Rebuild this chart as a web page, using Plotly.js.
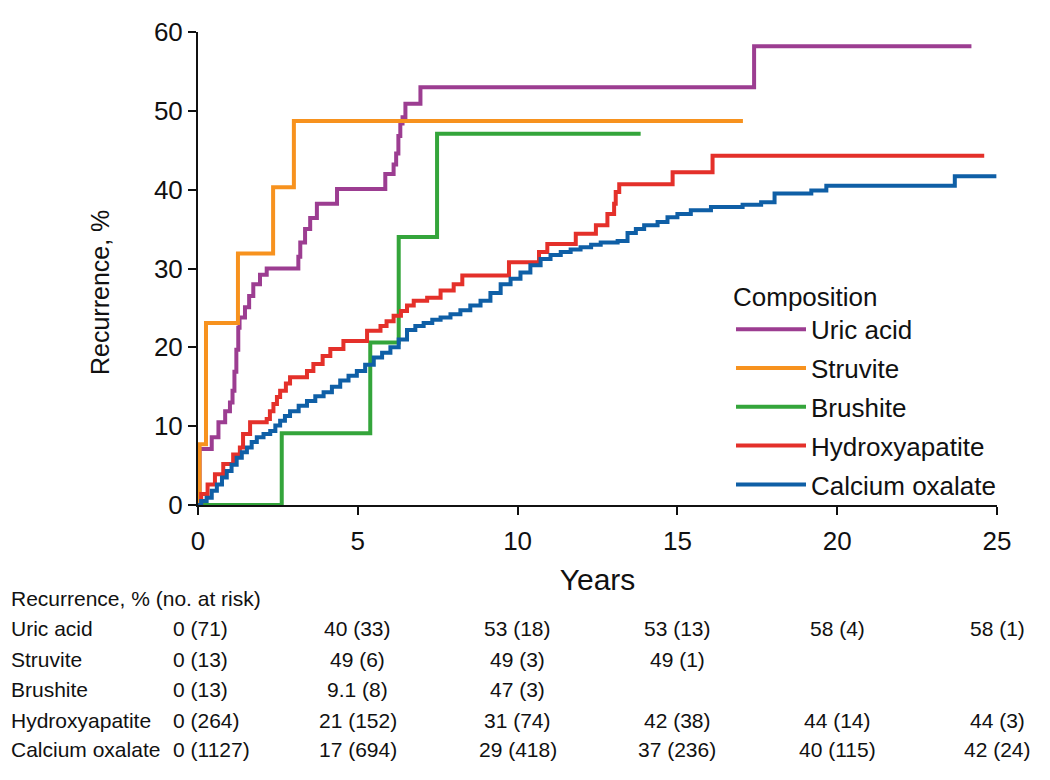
<!DOCTYPE html>
<html>
<head>
<meta charset="utf-8">
<script src="https://cdn.plot.ly/plotly-3.0.1.min.js"></script>
<style>
  html, body { margin: 0; padding: 0; background: #fff; }
  #chart { width: 1050px; height: 780px; }
</style>
</head>
<body>
<div id="chart"></div>
<script>
// Kaplan-Meier recurrence by stone composition
var uricX = [0, 0.05, 0.43, 0.64, 0.85, 1.0, 1.08, 1.14, 1.2, 1.26, 1.3, 1.47, 1.6, 1.73, 1.94, 2.15, 3.14, 3.2, 3.35, 3.51, 3.72, 4.35, 5.86, 6.12, 6.2, 6.27, 6.33, 6.4, 6.49, 6.96, 17.4, 24.2];
var uricY = [0, 7.1, 8.6, 10.5, 11.9, 13.0, 14.5, 16.9, 19.7, 22.5, 23.8, 25.1, 26.5, 28.0, 29.2, 30.0, 31.5, 33.3, 35.0, 36.4, 38.2, 40.1, 42.0, 43.2, 44.6, 46.8, 48.4, 49.2, 50.9, 53.0, 58.2, 58.2];

var struviteX = [0, 0.05, 0.25, 1.25, 2.35, 3.0, 17.05];
var struviteY = [0, 7.7, 23.1, 31.9, 40.3, 48.7, 48.7];

var brushiteX = [0, 2.62, 5.39, 6.28, 7.48, 13.85];
var brushiteY = [0, 9.1, 20.6, 34.0, 47.1, 47.1];

var hydroxX = [0, 0.1, 0.3, 0.53, 0.79, 1.1, 1.31, 1.41, 1.63, 2.15, 2.25, 2.36, 2.47, 2.57, 2.75, 2.88, 3.41, 3.61, 3.9, 4.14, 4.55, 5.29, 5.71, 5.9, 6.12, 6.35, 6.54, 6.75, 7.17, 7.59, 8.0, 8.27, 9.73, 10.67, 10.93, 11.82, 12.45, 12.81, 13.02, 13.07, 13.18, 14.85, 16.1, 24.6];
var hydroxY = [0, 1.4, 2.6, 3.9, 5.2, 6.4, 7.3, 9.0, 10.5, 10.9, 11.9, 12.8, 13.7, 14.5, 15.4, 16.2, 17.0, 17.9, 18.9, 19.8, 20.8, 22.1, 22.7, 23.3, 24.0, 24.6, 25.3, 25.9, 26.3, 27.2, 28.0, 29.1, 30.8, 32.1, 33.1, 34.4, 35.5, 36.9, 38.2, 39.7, 40.7, 42.2, 44.3, 44.3];

var oxalateX = [0, 0.1, 0.27, 0.43, 0.59, 0.75, 0.9, 1.05, 1.21, 1.37, 1.53, 1.68, 1.84, 2.05, 2.26, 2.42, 2.57, 2.72, 2.88, 3.15, 3.41, 3.67, 3.93, 4.19, 4.45, 4.71, 4.97, 5.23, 5.5, 5.76, 6.02, 6.28, 6.54, 6.8, 7.06, 7.33, 7.59, 7.9, 8.21, 8.52, 8.84, 9.15, 9.47, 9.78, 10.09, 10.4, 10.72, 11.03, 11.35, 11.66, 11.97, 12.3, 12.6, 13.13, 13.44, 13.7, 13.96, 14.38, 14.69, 15.0, 15.42, 16.05, 17.04, 17.62, 18.04, 19.19, 19.66, 23.68, 24.98];
var oxalateY = [0, 0.5, 0.93, 1.8, 2.6, 3.5, 4.3, 5.1, 6.0, 6.7, 7.3, 8.0, 8.6, 9.0, 9.4, 10.1, 10.7, 11.3, 11.9, 12.6, 13.2, 13.8, 14.3, 15.0, 15.8, 16.4, 17.0, 17.8, 18.7, 19.3, 20.0, 21.0, 22.2, 22.7, 23.1, 23.5, 23.8, 24.2, 24.7, 25.3, 25.9, 26.9, 28.0, 28.7, 29.5, 30.4, 31.2, 31.7, 32.1, 32.4, 32.7, 33.0, 33.3, 33.5, 34.5, 35.0, 35.5, 35.9, 36.5, 36.9, 37.4, 37.8, 38.1, 38.4, 39.5, 39.9, 40.5, 41.7, 41.7];

// risk table
var tableTimes = [0, 5, 10, 15, 20, 25];
var rowNames = ["Uric acid", "Struvite", "Brushite", "Hydroxyapatite", "Calcium oxalate"];
var uricPct = [0, 40, 53, 53, 58, 58];
var uricRisk = [71, 33, 18, 13, 4, 1];
var struvitePct = [0, 49, 49, 49];
var struviteRisk = [13, 6, 3, 1];
var brushitePct = [0, 9.1, 47];
var brushiteRisk = [13, 8, 3];
var hydroxPct = [0, 21, 31, 42, 44, 44];
var hydroxRisk = [264, 152, 74, 38, 14, 3];
var oxalatePct = [0, 17, 29, 37, 40, 42];
var oxalateRisk = [1127, 694, 418, 236, 115, 24];

var FONT = "Liberation Sans, Arial, Helvetica, sans-serif";

// page geometry in px
var W = 1050, H = 780, L = 198, R = 53, T = 32, B = 275;
var plotW = W - L - R, plotH = H - T - B;
function pxX(px) { return (px - L) / plotW; }
function pxY(py) { return (H - B - py) / plotH; }

function kmTrace(name, x, y, color) {
  return {
    x: x, y: y, name: name, legendgroup: name,
    type: "scatter", mode: "lines",
    line: {shape: "hv", color: color, width: 4},
    hoverinfo: "skip"
  };
}

var traces = [
  kmTrace("Uric acid", uricX, uricY, "#9c3d91"),
  kmTrace("Struvite", struviteX, struviteY, "#f7921e"),
  kmTrace("Brushite", brushiteX, brushiteY, "#34a53b"),
  kmTrace("Hydroxyapatite", hydroxX, hydroxY, "#e4302a"),
  kmTrace("Calcium oxalate", oxalateX, oxalateY, "#0f5fa6")
];

var TS = 21;  // table font size
var annos = [];
annos.push({
  text: "Recurrence, % (no. at risk)", xref: "paper", yref: "paper",
  x: pxX(9), y: pxY(598), xanchor: "left", yanchor: "middle",
  showarrow: false, font: {size: TS, color: "#111"}
});
var rowY = [628, 659, 689, 720, 750];
var pcts = [uricPct, struvitePct, brushitePct, hydroxPct, oxalatePct];
var risks = [uricRisk, struviteRisk, brushiteRisk, hydroxRisk, oxalateRisk];
for (var r = 0; r < rowNames.length; r++) {
  annos.push({
    text: rowNames[r], xref: "paper", yref: "paper",
    x: pxX(9), y: pxY(rowY[r]), xanchor: "left", yanchor: "middle",
    showarrow: false, font: {size: TS, color: "#111"}
  });
  for (var c = 0; c < pcts[r].length; c++) {
    var cell = {
      text: pcts[r][c] + " (" + risks[r][c] + ")",
      xref: "x", yref: "paper",
      x: tableTimes[c], y: pxY(rowY[r]), xanchor: "center", yanchor: "middle",
      showarrow: false, font: {size: TS, color: "#111"}
    };
    if (c == 0) {
      cell.xref = "paper";
      cell.x = pxX(171);
      cell.xanchor = "left";
    }
    annos.push(cell);
  }
}

// y title as annotation (it sits below the plot centre in the original)
annos.push({
  text: "Recurrence, %", xref: "paper", yref: "paper",
  x: pxX(100), y: pxY(293), xanchor: "center", yanchor: "middle",
  textangle: -90, showarrow: false, font: {size: 25, color: "#111"}
});

var layout = {
  width: W, height: H,
  margin: {l: L, r: R, t: T, b: B},
  paper_bgcolor: "#fff", plot_bgcolor: "#fff",
  font: {family: FONT, color: "#111"},
  showlegend: true,
  legend: {
    x: pxX(731), y: pxY(272), xanchor: "left", yanchor: "top",
    bgcolor: "rgba(0,0,0,0)",
    font: {size: 26, color: "#111"},
    title: {text: "Composition", font: {size: 26, color: "#111"}},
    itemwidth: 70,
    traceorder: "grouped",
    tracegroupgap: 2
  },
  xaxis: {
    range: [0, 25], dtick: 5, tick0: 0,
    showline: true, linecolor: "#111", linewidth: 2,
    ticks: "outside", ticklen: 8, tickwidth: 2, tickcolor: "#111",
    showgrid: false, zeroline: false,
    tickfont: {size: 26}, ticklabelstandoff: 4,
    title: {text: "Years", font: {size: 30}, standoff: 14}
  },
  yaxis: {
    range: [0, 60], dtick: 10, tick0: 0,
    showline: true, linecolor: "#111", linewidth: 2,
    ticks: "outside", ticklen: 8, tickwidth: 2, tickcolor: "#111",
    showgrid: false, zeroline: false,
    tickfont: {size: 26}
  },
  annotations: annos
};

Plotly.newPlot("chart", traces, layout, {displayModeBar: false, staticPlot: true});
</script>
</body>
</html>
